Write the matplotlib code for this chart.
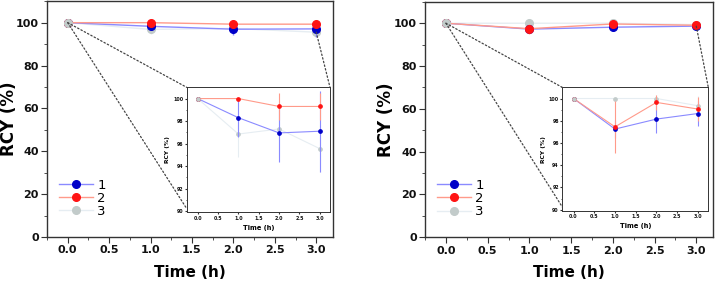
import numpy as np
import matplotlib
matplotlib.use("Agg")
import matplotlib.pyplot as plt
from matplotlib.patches import ConnectionPatch
from matplotlib.lines import Line2D
from matplotlib.ticker import MultipleLocator, FormatStrFormatter

time_h = [0.0, 1.0, 2.0, 3.0]
labels = ["1", "2", "3"]

# left panel
left_rcy = [
    [100.0, 98.3, 96.95, 97.1],
    [100.0, 100.0, 99.3, 99.3],
    [100.0, 96.85, 97.3, 95.55],
]
left_err = [
    [0.0, 1.7, 2.6, 3.6],
    [0.0, 0.0, 1.2, 1.2],
    [0.0, 2.0, 2.5, 2.1],
]

# right panel
right_rcy = [
    [100.0, 97.25, 98.15, 98.65],
    [100.0, 97.45, 99.65, 99.05],
    [100.0, 100.0, 100.0, 99.35],
]
right_err = [
    [0.0, 0.8, 1.25, 1.1],
    [0.0, 2.35, 0.65, 1.1],
    [0.0, 0.0, 0.3, 0.9],
]

line_cols = ["#8a8aff", "#ff9a8a", "#e6edf2"]
mark_cols = ["#0000c8", "#ff1414", "#c2cbca"]
frame_col = "#333333"


def style_axes(ax, size, xmaj, xmin_step, ymaj, ymin_step, big=True):
    for s in ax.spines.values():
        s.set_color(frame_col)
        s.set_linewidth(1.0 if big else 0.7)
    ax.xaxis.set_major_locator(MultipleLocator(xmaj))
    ax.xaxis.set_minor_locator(MultipleLocator(xmin_step))
    ax.yaxis.set_major_locator(MultipleLocator(ymaj))
    ax.yaxis.set_minor_locator(MultipleLocator(ymin_step))
    ax.xaxis.set_major_formatter(FormatStrFormatter("%.1f"))
    ax.yaxis.set_major_formatter(FormatStrFormatter("%d"))
    ax.tick_params(which="both", direction="out", top=False, right=False,
                   colors=frame_col, labelsize=size, pad=2 if big else 1,
                   labelcolor="#111111")
    ax.tick_params(which="major", length=4 if big else 1.5, width=0.8)
    ax.tick_params(which="minor", length=2 if big else 1, width=0.6)
    for lab in ax.get_xticklabels() + ax.get_yticklabels():
        lab.set_fontweight("bold")


def draw_series(ax, rcy, err, ms, lw):
    for i in range(3):
        ax.errorbar(time_h, rcy[i], yerr=err[i], color=line_cols[i], lw=lw,
                    elinewidth=lw, capsize=0, marker="o", ms=ms,
                    mfc=mark_cols[i], mec=mark_cols[i],
                    zorder=2 if i == 2 else 3)
    # grey start point sits on top of the others
    ax.plot(time_h[:1], rcy[2][:1], "o", ms=ms, color=mark_cols[2], zorder=5)


fig = plt.figure(figsize=(7.18, 2.81), dpi=100)

panels = [
    (left_rcy, left_err, [0.0655, 0.1566, 0.398, 0.839], [0.260, 0.2445, 0.1996, 0.4448], -0.10),
    (right_rcy, right_err, [0.592, 0.1555, 0.401, 0.838], [0.7832, 0.250, 0.2033, 0.439], -0.104),
]

for rcy, err, pos, ipos, ylab_x in panels:
    ax = fig.add_axes(pos)
    draw_series(ax, rcy, err, ms=5.5, lw=1.0)
    ax.set_xlim(-0.25, 3.2)
    ax.set_ylim(0, 110)
    style_axes(ax, 8, 0.5, 0.25, 20, 10)
    ax.set_xlabel("Time (h)", fontsize=11, fontweight="bold", labelpad=7)
    ax.set_ylabel("RCY (%)", fontsize=12, fontweight="bold")
    ax.yaxis.set_label_coords(ylab_x, 0.5)
    handles = [Line2D([], [], color=line_cols[i], lw=1.0, marker="o", ms=5.5,
                      mfc=mark_cols[i], mec=mark_cols[i]) for i in range(3)]
    ax.legend(handles, labels, loc="lower left", bbox_to_anchor=(0.0, 0.03),
              frameon=False, fontsize=9.5, handlelength=2.6, handletextpad=0.3,
              labelspacing=0.02, borderaxespad=0.5)

    ins = fig.add_axes(ipos)
    draw_series(ins, rcy, err, ms=2.4, lw=0.8)
    ins.set_xlim(-0.27, 3.25)
    ins.set_ylim(89.9, 101)
    style_axes(ins, 3.4, 0.5, 0.5, 2, 1, big=False)
    ins.set_xlabel("Time (h)", fontsize=4.8, fontweight="bold", labelpad=3)
    ins.set_ylabel("RCY (%)", fontsize=4.3, fontweight="bold", labelpad=2)

    # zoom indicator lines
    for xy_main, xy_ins in [((0.0, 100.0), (0.0, 1.0)),
                            ((0.0, 100.0), (0.0, 0.03)),
                            ((3.0, min(r[3] for r in rcy)), (1.0, 1.0))]:
        cp = ConnectionPatch(xyA=xy_main, coordsA=ax.transData,
                             xyB=xy_ins, coordsB=ins.transAxes,
                             color="#444444", lw=0.9, ls=(0, (1.2, 1.8)),
                             zorder=1)
        fig.add_artist(cp)

fig.savefig("out.png", dpi=100)
